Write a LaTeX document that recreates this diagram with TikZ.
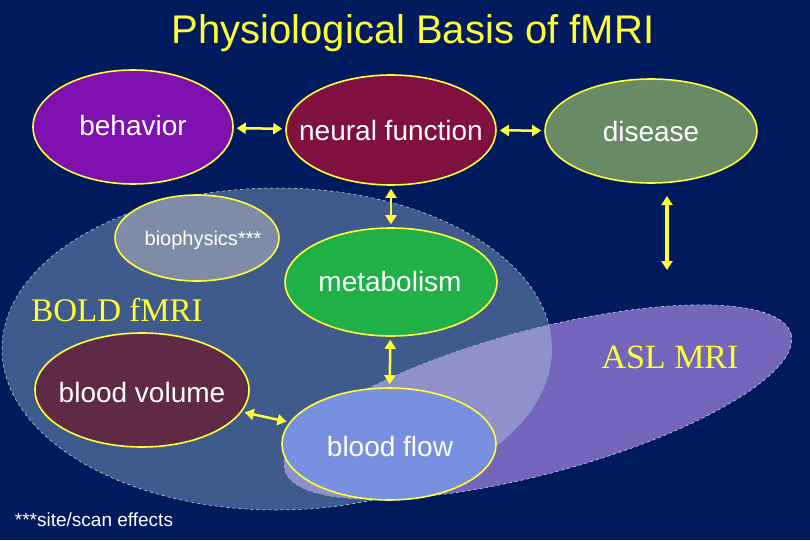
\documentclass[tikz,border=0pt]{standalone}
\usepackage{fontspec}
\setmainfont{Liberation Sans}
\newfontfamily\serifm{Liberation Serif}
\usetikzlibrary{arrows.meta,shapes.geometric}
\definecolor{bg}{HTML}{001A5E}
\definecolor{boldc}{HTML}{3F5A8C}
\definecolor{aslc}{HTML}{7466BC}
\definecolor{ovl}{HTML}{9090CC}
\definecolor{yel}{HTML}{FFFF33}
\tikzset{
 bub/.style={ellipse,draw=yel,line width=1.6pt,inner sep=0pt},
 txt/.style={text=white,font=\fontsize{28}{28}\selectfont,inner sep=0pt},
 dbl/.style={{Triangle[length=9pt,width=11pt]}-{Triangle[length=9pt,width=11pt]},yel,line width=2.5pt,shorten >=3pt,shorten <=3pt},
 region/.style={draw=white!80!gray,dashed,line width=0.5pt}
}
\begin{document}
\begin{tikzpicture}[x=1pt,y=-1pt]
\fill[bg] (0,0) rectangle (810,540);
\useasboundingbox (0,0) rectangle (810,540);
\node[font=\fontsize{40}{40}\selectfont,text=yel] (title) at (413,33) {Physiological Basis of fMRI};
% regions
\path[fill=boldc,region] (277,349) ellipse [x radius=275,y radius=161];
\path[fill=aslc,region] (538,402) ellipse [x radius=262,y radius=72,rotate=15];
\begin{scope}
\clip (277,349) ellipse [x radius=275,y radius=161];
\fill[ovl] (538,402) ellipse [x radius=262,y radius=72,rotate=15];
\end{scope}
\node[font=\serifm\fontsize{33}{33}\selectfont,text=yel] (bold) at (117,310) {BOLD fMRI};
\node[font=\serifm\fontsize{34}{34}\selectfont,text=yel] (asl) at (670,357) {ASL MRI};
% nodes
\node[bub,fill={rgb,255:red,127;green,16;blue,176},minimum width=200pt,minimum height=114pt] (beh) at (133,127) {};
\node[txt] (behT) at (133,125) {behavior};
\node[bub,fill={rgb,255:red,127;green,16;blue,64},minimum width=210pt,minimum height=110pt] (neu) at (391,130) {};
\node[txt] (neuT) at (391,130) {neural function};
\node[bub,fill={rgb,255:red,104;green,138;blue,100},minimum width=212pt,minimum height=104pt] (dis) at (651,131) {};
\node[txt] (disT) at (651,131) {disease};
\node[bub,fill={rgb,255:red,127;green,140;blue,168},minimum width=164pt,minimum height=86pt] (bio) at (197,238) {};
\node[txt,font=\fontsize{20}{20}\selectfont] (bioT) at (203,240) {biophysics***};
\node[bub,fill={rgb,255:red,32;green,176;blue,72},minimum width=212pt,minimum height=108pt] (met) at (391,282) {};
\node[txt] (metT) at (390,281) {metabolism};
\node[bub,fill={rgb,255:red,94;green,42;blue,69},minimum width=214pt,minimum height=114pt] (bv) at (142,390) {};
\node[txt] (bvT) at (142,392) {blood volume};
\node[bub,fill={rgb,255:red,120;green,144;blue,224},minimum width=214pt,minimum height=112pt] (bf) at (389,444) {};
\node[txt] (bfT) at (390,446) {blood flow};
\node[text=white,font=\fontsize{19}{19}\selectfont] (note) at (94,520) {***site/scan effects};
\coordinate (d1) at (667,196);
\coordinate (d2) at (667,270);
% arrows
\draw[dbl] (beh) -- (neu);
\draw[dbl] (neu) -- (dis);
\draw[dbl] (neu) -- (met);
\draw[dbl] (met) -- (bf);
\draw[dbl] (bv) -- (bf);
\draw[dbl,line width=3.5pt,shorten >=0pt,shorten <=0pt] (d1) -- (d2);
\end{tikzpicture}
\end{document}
